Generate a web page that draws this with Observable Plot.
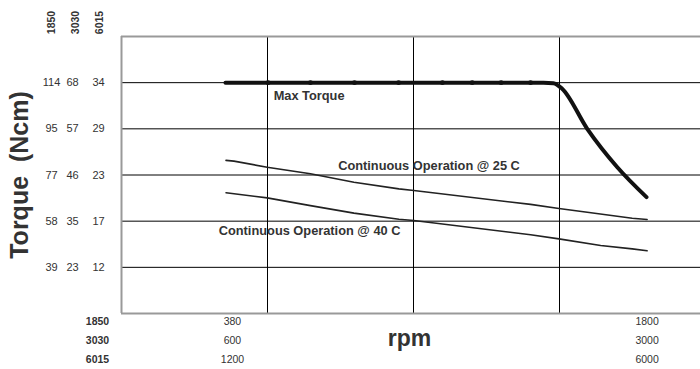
<!DOCTYPE html>
<html>
<head>
<meta charset="utf-8">
<script src="https://cdn.jsdelivr.net/npm/d3@7"></script>
<script src="https://cdn.jsdelivr.net/npm/@observablehq/plot@0.6"></script>
<style>
  html, body { margin: 0; padding: 0; background: #fff; }
  svg { display: block; font-family: "Liberation Sans", Arial, sans-serif; }
</style>
</head>
<body>
<div id="chart"></div>
<script>
// rpm (1850 motor) and torque (Ncm, 1850 motor)
const maxRpm    = [356, 502, 647, 798, 949, 1099, 1201, 1300, 1401, 1445, 1479, 1509, 1595, 1698, 1798];
const maxTorque = [115, 115, 115, 115, 115, 115, 115, 115, 115, 115, 114.8, 112.5, 96.0, 80.2, 67.9];
const maxDotRpm = [502, 647, 798, 949, 1099, 1201, 1300, 1401];

const c25Rpm    = [358, 385, 499, 647, 796, 950, 1001, 1401, 1498, 1595, 1749, 1800];
const c25Torque = [83.0, 82.7, 80.2, 77.5, 74.0, 71.3, 70.6, 64.9, 63.2, 61.7, 59.2, 58.7];

const c40Rpm    = [358, 499, 647, 796, 950, 1001, 1401, 1498, 1641, 1749, 1800];
const c40Torque = [69.7, 67.6, 64.4, 61.3, 58.8, 58.3, 52.4, 50.7, 48.0, 46.6, 45.8];

// y gridlines (Ncm of 1850 motor) and their three label columns
const yGrid    = [39, 58, 77, 96, 115];
const yCol1850 = ["39", "58", "77", "95", "114"];
const yCol3030 = ["23", "35", "46", "57", "68"];
const yCol6015 = ["12", "17", "23", "29", "34"];
const motors = ["1850", "3030", "6015"];

const xGrid = [500, 1000, 1500];
const xTickRpm = [380, 1800];
const xLabels = [["380", "600", "1200"], ["1800", "3000", "6000"]];

const curveLabels = [
  {x: 521, y: 109.7, text: "Max Torque"},
  {x: 742, y: 80.6, text: "Continuous Operation @ 25 C"},
  {x: 333, y: 53.9, text: "Continuous Operation @ 40 C"}
];

const maxData = maxRpm.map((x, i) => ({x, y: maxTorque[i]}));
const c25Data = c25Rpm.map((x, i) => ({x, y: c25Torque[i]}));
const c40Data = c40Rpm.map((x, i) => ({x, y: c40Torque[i]}));
const maxDots = maxDotRpm.map(x => ({x, y: 115}));

const yCols = [yCol1850, yCol3030, yCol6015].map(col => yGrid.map((g, i) => ({y: g, t: col[i]})));
const xRows = [0, 1, 2].map(j => xTickRpm.map((r, i) => ({x: r, t: xLabels[i][j]})));

const txt = "#333";
const rowDy = [11, 30.2, 49.4];
const chart = Plot.plot({
  width: 700,
  height: 369,
  marginTop: 36,
  marginBottom: 56,
  marginLeft: 121,
  marginRight: 0,
  x: {domain: [0, 2000], range: [121, 705], axis: null},
  y: {domain: [20, 134], axis: null},
  marks: [
    Plot.gridX(xGrid, {stroke: "#000", strokeOpacity: 1, strokeWidth: 1}),
    Plot.gridY(yGrid, {stroke: "#000", strokeOpacity: 1, strokeWidth: 1}),
    Plot.ruleY([20, 134], {stroke: "#999", strokeWidth: 2}),
    Plot.ruleX([0], {stroke: "#999", strokeWidth: 2}),
    Plot.line(c25Data, {x: "x", y: "y", stroke: "#222", strokeWidth: 1.6}),
    Plot.line(c40Data, {x: "x", y: "y", stroke: "#222", strokeWidth: 1.6}),
    Plot.line(maxData, {x: "x", y: "y", stroke: "#111", strokeWidth: 4, curve: "monotone-x"}),
    Plot.dot(maxDots, {x: "x", y: "y", r: 2.4, fill: "#111"}),
    Plot.text(curveLabels, {x: "x", y: "y", text: "text", textAnchor: "start", fontSize: 12.8, fontWeight: "bold", fill: txt}),
    // y tick label columns
    ...[-70, -49, -23].map((dx, k) =>
      Plot.text(yCols[k], {y: "y", text: "t", frameAnchor: "left", dx, fontSize: 11, fill: txt, textAnchor: "middle"})),
    // motor headers (rotated)
    ...motors.map((m, k) =>
      Plot.text([m], {frameAnchor: "top-left", dx: [-74, -50, -26][k], dy: -14, rotate: -90, fontSize: 10.5, fontWeight: "bold", fill: txt, textAnchor: "middle"})),
    // y title
    Plot.text(["Torque  (Ncm)"], {frameAnchor: "left", dx: -102, rotate: -90, fontSize: 25, fontWeight: "bold", fill: txt, textAnchor: "middle"}),
    // x tick labels
    ...[0, 1, 2].map(j =>
      Plot.text(xRows[j], {x: "x", text: "t", frameAnchor: "bottom", dy: rowDy[j], fontSize: 10.5, fill: txt, textAnchor: "middle"})),
    // row motor labels
    ...motors.map((m, j) =>
      Plot.text([m], {frameAnchor: "bottom-left", dx: -24, dy: rowDy[j], fontSize: 10.5, fontWeight: "bold", fill: txt, textAnchor: "middle"})),
    Plot.text(["rpm"], {frameAnchor: "bottom-left", dx: 288, dy: 32, fontSize: 23, fontWeight: "bold", fill: txt, textAnchor: "middle"})
  ]
});
document.getElementById("chart").appendChild(chart);
</script>
</body>
</html>
